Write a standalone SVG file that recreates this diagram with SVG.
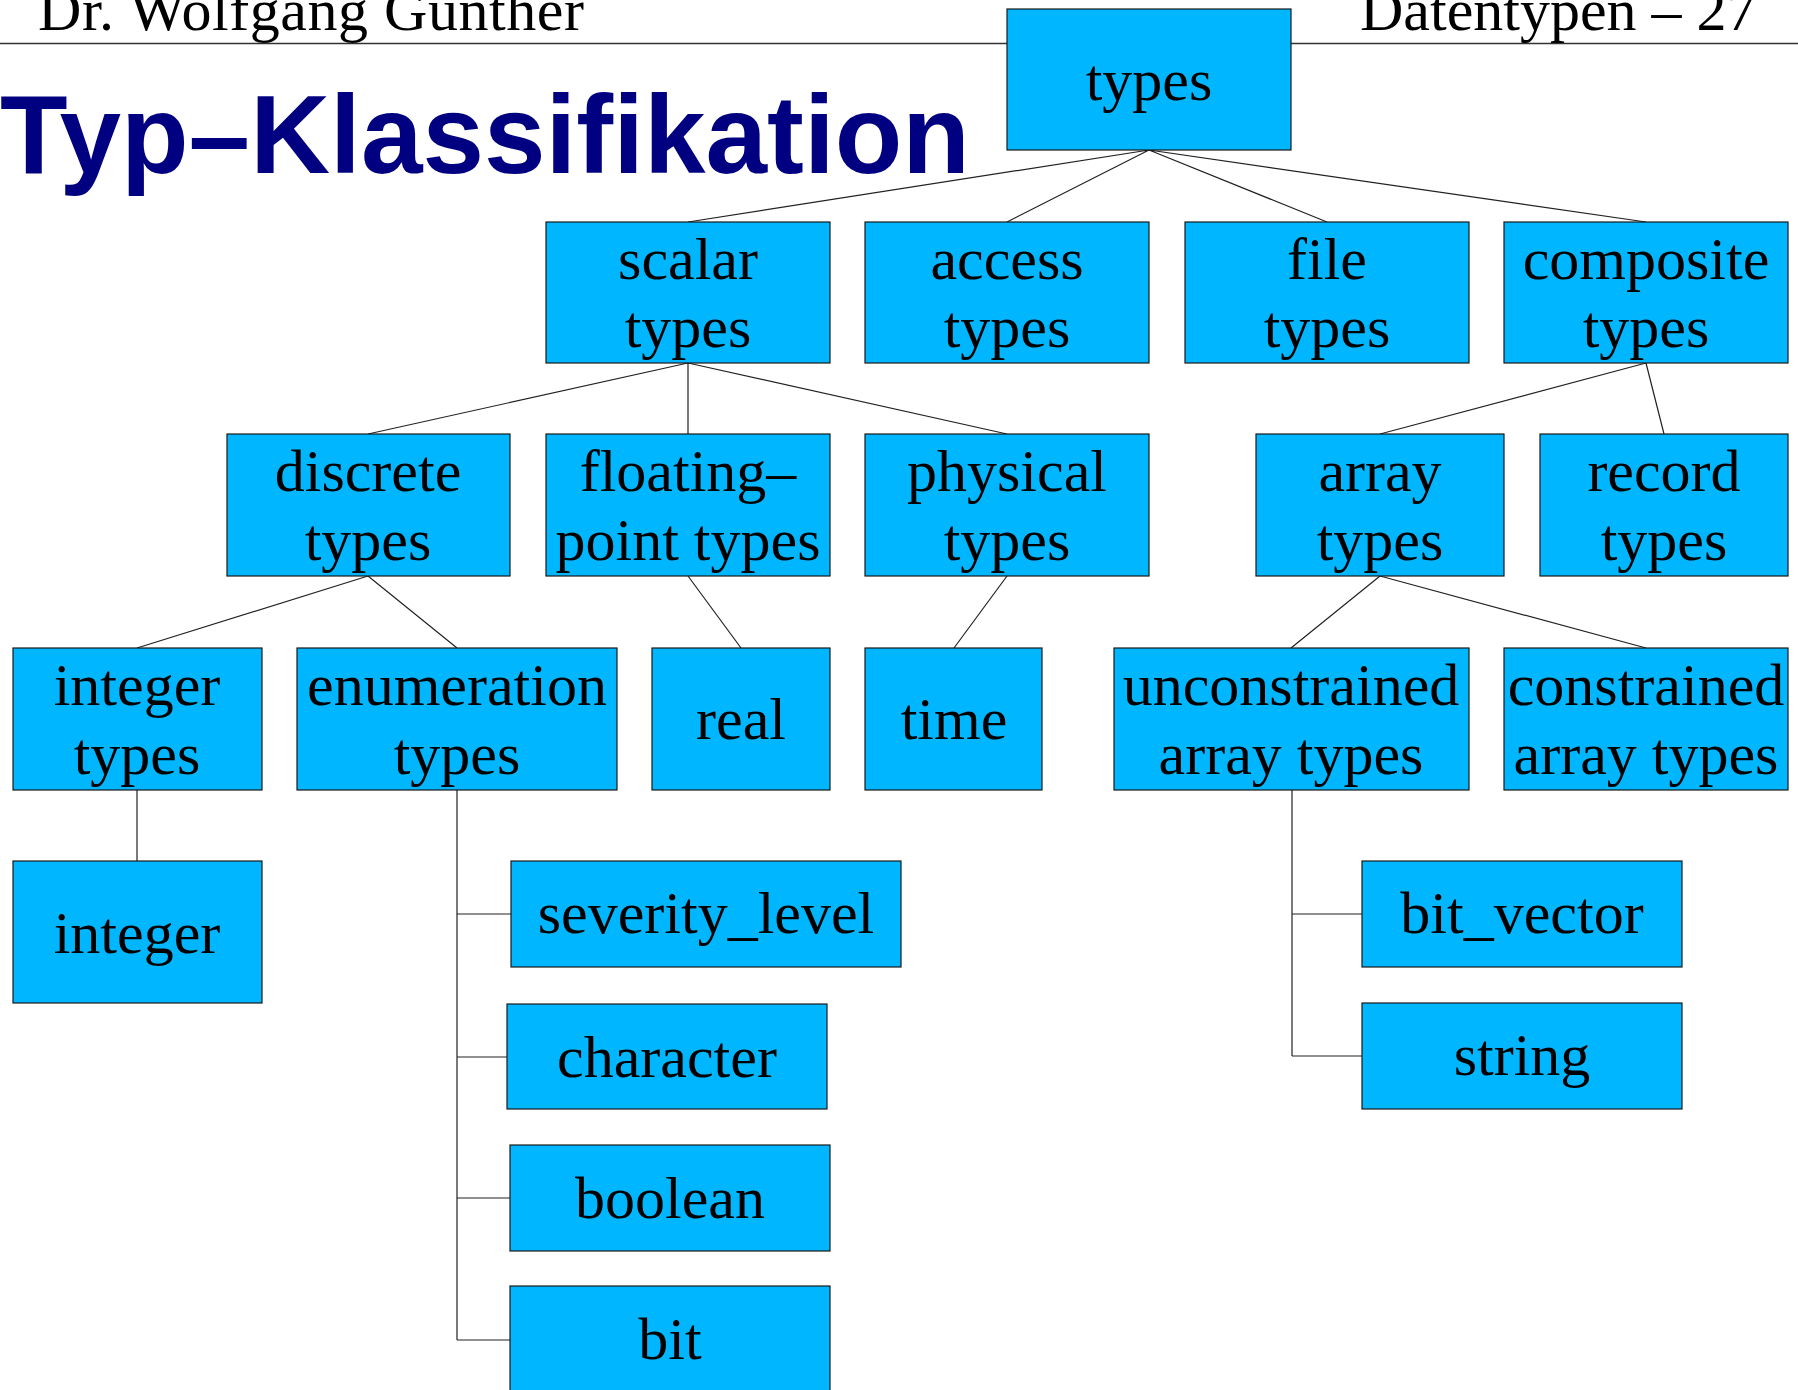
<svg xmlns="http://www.w3.org/2000/svg" width="1798" height="1390" viewBox="0 0 1798 1390">
<style>
.box{fill:#00B7FF;stroke:#1a1a1a;stroke-width:1.2}
.t{font-family:"Liberation Serif","Times New Roman",serif;font-size:60px;fill:#000;text-anchor:middle}
.hdr{font-family:"Liberation Serif","Times New Roman",serif;font-size:60px;fill:#000}
.c{stroke:#222;stroke-width:1.2;fill:none}
</style>
<rect width="1798" height="1390" fill="#fff"/>
<line x1="0" y1="43.5" x2="1798" y2="43.5" stroke="#333" stroke-width="1.3"/>
<text class="hdr" x="38" y="30" textLength="546">Dr. Wolfgang Gunther</text>
<text class="hdr" x="1360" y="30">Datentypen – 27</text>
<text x="0" y="173" font-family="'Liberation Sans',Arial,sans-serif" font-weight="bold" font-size="111" fill="#000080" textLength="970" lengthAdjust="spacingAndGlyphs">Typ–Klassifikation</text>

<g id="connectors">
<path class="c" d="M1149 150L688 222M1149 150L1007 222M1149 150L1327 222M1149 150L1646 222"/>
<path class="c" d="M688 363L368 434M688 363L688 434M688 363L1007 434"/>
<path class="c" d="M1646 363L1380 434M1646 363L1664 434"/>
<path class="c" d="M368 576L137 648M368 576L457 648"/>
<path class="c" d="M688 576L741 648M1007 576L954 648"/>
<path class="c" d="M1380 576L1291 648M1380 576L1646 648"/>
<path class="c" d="M137 790L137 861"/>
<path class="c" d="M457 790L457 1340M457 914L511 914M457 1057L507 1057M457 1198L510 1198M457 1340L510 1340"/>
<path class="c" d="M1292 790L1292 1056M1292 914L1362 914M1292 1056L1362 1056"/>
</g>

<g id="types"><rect class="box" x="1007" y="9" width="284" height="141"/><text class="t" x="1149" y="100">types</text></g>

<g id="scalar"><rect class="box" x="546" y="222" width="284" height="141"/><text class="t" x="688" y="279">scalar</text><text class="t" x="688" y="347">types</text></g>
<g id="access"><rect class="box" x="865" y="222" width="284" height="141"/><text class="t" x="1007" y="279">access</text><text class="t" x="1007" y="347">types</text></g>
<g id="file"><rect class="box" x="1185" y="222" width="284" height="141"/><text class="t" x="1327" y="279">file</text><text class="t" x="1327" y="347">types</text></g>
<g id="composite"><rect class="box" x="1504" y="222" width="284" height="141"/><text class="t" x="1646" y="279">composite</text><text class="t" x="1646" y="347">types</text></g>

<g id="discrete"><rect class="box" x="227" y="434" width="283" height="142"/><text class="t" x="368" y="491">discrete</text><text class="t" x="368" y="560">types</text></g>
<g id="floating"><rect class="box" x="546" y="434" width="284" height="142"/><text class="t" x="688" y="491">floating–</text><text class="t" x="688" y="560">point types</text></g>
<g id="physical"><rect class="box" x="865" y="434" width="284" height="142"/><text class="t" x="1007" y="491">physical</text><text class="t" x="1007" y="560">types</text></g>
<g id="array"><rect class="box" x="1256" y="434" width="248" height="142"/><text class="t" x="1380" y="491">array</text><text class="t" x="1380" y="560">types</text></g>
<g id="record"><rect class="box" x="1540" y="434" width="248" height="142"/><text class="t" x="1664" y="491">record</text><text class="t" x="1664" y="560">types</text></g>

<g id="integer-types"><rect class="box" x="13" y="648" width="249" height="142"/><text class="t" x="137" y="705">integer</text><text class="t" x="137" y="774">types</text></g>
<g id="enumeration-types"><rect class="box" x="297" y="648" width="320" height="142"/><text class="t" x="457" y="705">enumeration</text><text class="t" x="457" y="774">types</text></g>
<g id="real"><rect class="box" x="652" y="648" width="178" height="142"/><text class="t" x="741" y="739">real</text></g>
<g id="time"><rect class="box" x="865" y="648" width="177" height="142"/><text class="t" x="954" y="739">time</text></g>
<g id="unconstrained"><rect class="box" x="1114" y="648" width="355" height="142"/><text class="t" x="1291" y="705">unconstrained</text><text class="t" x="1291" y="774">array types</text></g>
<g id="constrained"><rect class="box" x="1504" y="648" width="284" height="142"/><text class="t" x="1646" y="705">constrained</text><text class="t" x="1646" y="774">array types</text></g>

<g id="integer"><rect class="box" x="13" y="861" width="249" height="142"/><text class="t" x="137" y="953">integer</text></g>
<g id="severity_level"><rect class="box" x="511" y="861" width="390" height="106"/><text class="t" x="706" y="933">severity_level</text></g>
<g id="character"><rect class="box" x="507" y="1004" width="320" height="105"/><text class="t" x="667" y="1077">character</text></g>
<g id="boolean"><rect class="box" x="510" y="1145" width="320" height="106"/><text class="t" x="670" y="1218">boolean</text></g>
<g id="bit"><rect class="box" x="510" y="1286" width="320" height="110"/><text class="t" x="670" y="1359">bit</text></g>
<g id="bit_vector"><rect class="box" x="1362" y="861" width="320" height="106"/><text class="t" x="1522" y="933">bit_vector</text></g>
<g id="string"><rect class="box" x="1362" y="1003" width="320" height="106"/><text class="t" x="1522" y="1075">string</text></g>
</svg>
